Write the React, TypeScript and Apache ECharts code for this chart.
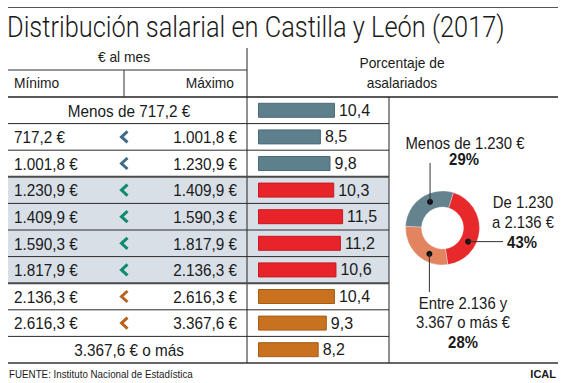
import React, { useEffect, useRef } from "react";
import * as echarts from "echarts";

// ---- data ----
const bounds = ["717,2 €", "1.001,8 €", "1.230,9 €", "1.409,9 €", "1.590,3 €", "1.817,9 €", "2.136,3 €", "2.616,3 €", "3.367,6 €"];
const categories = [
  "Menos de 717,2 €",
  "717,2-1.001,8",
  "1.001,8-1.230,9",
  "1.230,9-1.409,9",
  "1.409,9-1.590,3",
  "1.590,3-1.817,9",
  "1.817,9-2.136,3",
  "2.136,3-2.616,3",
  "2.616,3-3.367,6",
  "3.367,6 € o más",
];
const values = [10.4, 8.5, 9.8, 10.3, 11.5, 11.2, 10.6, 10.4, 9.3, 8.2];
const groups = [0, 0, 0, 1, 1, 1, 1, 2, 2, 2];
const donutValues = [43, 28, 29]; // De 1.230 a 2.136 €, Entre 2.136 y 3.367 o más €, Menos de 1.230 €
const donutNames = ["De 1.230 a 2.136 €", "Entre 2.136 y 3.367 o más €", "Menos de 1.230 €"];
const title = "Distribución salarial en Castilla y León (2017)";

// ---- styles ----
const barColors = ["#5e7f8c", "#e8232a", "#c8711f"];
const barBorders = ["#4c6b78", "#c41a20", "#a65c17"];
const chevColors = ["#3f6a88", "#0f8a6d", "#b4651f"];
const donutColors = ["#e8292b", "#e2845f", "#64838f"];
const FF = "'Liberation Sans', Arial, Helvetica, sans-serif";

export default function App() {
  const ref = useRef<HTMLDivElement>(null);
  useEffect(() => {
    if (!ref.current) return;
    const chart = echarts.init(ref.current, null, { renderer: "svg" });

    const rowTop = 97;
    const rowBottom = 363;
    const rowH = (rowBottom - rowTop) / categories.length;
    const L = 8, R = 558, colSplit = 247, tableR = 389, midX = 124;

    // title scaling to emulate condensed face
    const titleFont = "300 30px Roboto";
    let titleScale = 0.78;
    try {
      const c = document.createElement("canvas").getContext("2d");
      if (c) {
        c.font = titleFont;
        const w = c.measureText(title).width;
        if (w > 0) titleScale = 498 / w;
      }
    } catch (e) {}

    const txt = (text: string, x: number, y: number, size: number, align = "left", weight = "normal", sx = 1, fill = "#1a1a1a") => ({
      type: "text",
      silent: true,
      x, y, scaleX: sx, scaleY: 1,
      style: {
        text, x: 0, y: 0, fill,
        font: `${weight} ${size}px ${FF}`,
        align, verticalAlign: "middle",
        textAlign: align, textVerticalAlign: "middle",
      },
    });
    const line = (x1: number, y1: number, x2: number, y2: number, stroke = "#222", lw = 1) => ({
      type: "line",
      silent: true,
      shape: { x1, y1, x2, y2 },
      style: { stroke, lineWidth: lw },
    });

    const g: any[] = [];
    // highlighted rows background
    g.push({
      type: "rect", silent: true, z: -1,
      shape: { x: L, y: rowTop + 3 * rowH, width: tableR - L, height: 4 * rowH },
      style: { fill: "#d8dfe7" },
    });
    // top rule
    g.push(line(L, 7.5, R, 7.5, "#555", 1));
    // title
    g.push({
      type: "text", silent: true, x: 7, y: 27, scaleX: titleScale, scaleY: 1,
      style: { text: title, x: 0, y: 0, fill: "#1a1a1a", font: titleFont, align: "left", verticalAlign: "middle", textAlign: "left", textVerticalAlign: "middle" },
    });
    // header
    g.push(txt("€ al mes", 124, 57, 15, "center", "normal", 0.92));
    g.push(txt("Mínimo", 14, 83, 15, "left", "normal", 0.92));
    g.push(txt("Máximo", 234, 83, 15, "right", "normal", 0.92));
    g.push(txt("Porcentaje de", 402, 63, 15, "center", "normal", 0.92));
    g.push(txt("asalariados", 402, 83, 15, "center", "normal", 0.92));
    g.push(line(L, 70, colSplit, 70, "#333", 1));
    g.push(line(midX, 70, midX, 96.5, "#333", 1));
    g.push(line(colSplit, 48, colSplit, rowBottom, "#222", 1));
    g.push(line(tableR, rowTop, tableR, rowBottom, "#222", 1));
    g.push(line(L, rowTop, R, rowTop, "#222", 1.3));
    g.push(line(L, rowBottom, R, rowBottom, "#333", 1.3));
    // row lines
    for (let i = 1; i < categories.length; i++) {
      const y = rowTop + i * rowH;
      const thick = i === 3 || i === 7;
      g.push(line(L, y, tableR, y, thick ? "#4a4a4a" : "#2a2a2a", thick ? 2 : 1));
    }
    // row texts
    categories.forEach((cat, i) => {
      const cy = rowTop + (i + 0.5) * rowH;
      if (i === 0 || i === categories.length - 1) {
        g.push(txt(cat, 129, cy, 17, "center", "normal", 0.9));
      } else {
        g.push(txt(bounds[i - 1], 14, cy, 17, "left", "normal", 0.9));
        g.push(txt(bounds[i], 237, cy, 17, "right", "normal", 0.9));
        g.push({
          type: "polyline", silent: true,
          shape: { points: [[127.5, cy - 5.5], [121.5, cy], [127.5, cy + 5.5]] },
          style: { stroke: chevColors[groups[i]], lineWidth: 3, fill: null, lineJoin: "miter" },
        });
      }
    });

    // donut annotations
    const pcx = 442.5, pcy = 228, rm = 29;
    const dot = (ang: number) => {
      const a = (ang * Math.PI) / 180;
      return [pcx + rm * Math.sin(a), pcy - rm * Math.cos(a)];
    };
    const dGray = dot(-25.4), dRed = dot(118), dSal = dot(206.9);
    [dGray, dRed, dSal].forEach((p) =>
      g.push({ type: "circle", silent: true, z: 10, shape: { cx: p[0], cy: p[1], r: 3 }, style: { fill: "#111" } })
    );
    g.push({ ...line(dGray[0], dGray[1], dGray[0], 163, "#333", 1), z: 10 });
    g.push({ ...line(dRed[0], dRed[1], 503, dRed[1], "#333", 1), z: 10 });
    g.push({ ...line(dSal[0], dSal[1], dSal[0], 292, "#333", 1), z: 10 });
    g.push(txt("Menos de 1.230 €", 465, 143, 16, "center", "normal", 0.93));
    g.push(txt(`${donutValues[2]}%`, 464, 159, 16, "center", "bold", 0.93));
    g.push(txt("De 1.230", 523, 202, 16, "center", "normal", 0.93));
    g.push(txt("a 2.136 €", 523, 222, 16, "center", "normal", 0.93));
    g.push(txt(`${donutValues[0]}%`, 522, 242, 16, "center", "bold", 0.93));
    g.push(txt("Entre 2.136 y", 463, 303, 16, "center", "normal", 0.93));
    g.push(txt("3.367 o más €", 463, 322, 16, "center", "normal", 0.93));
    g.push(txt(`${donutValues[1]}%`, 463, 342, 16, "center", "bold", 0.93));

    // footer
    g.push(txt("FUENTE: Instituto Nacional de Estadística", 9, 374, 11, "left", "normal", 0.89));
    g.push(txt("ICAL", 556, 374, 11, "right", "bold", 1));

    chart.setOption({
      animation: false,
      backgroundColor: "#ffffff",
      grid: { left: 258, top: rowTop, width: 129.5, height: rowBottom - rowTop, containLabel: false },
      xAxis: { type: "value", min: 0, max: 17.5, show: false },
      yAxis: { type: "category", data: categories, inverse: true, show: false },
      series: [
        {
          type: "bar",
          barWidth: 15,
          data: values.map((v, i) => ({
            value: v,
            itemStyle: { color: barColors[groups[i]], borderColor: barBorders[groups[i]], borderWidth: 1 },
          })),
          label: {
            show: true,
            position: "right",
            distance: 4,
            fontSize: 16,
            fontFamily: FF,
            color: "#1a1a1a",
            formatter: (p: any) => String(p.value).replace(".", ","),
          },
          silent: true,
          z: 5,
        },
        {
          type: "pie",
          center: [pcx, pcy],
          radius: [21, 37],
          startAngle: 73,
          clockwise: true,
          label: { show: false },
          labelLine: { show: false },
          silent: true,
          z: 5,
          itemStyle: { borderColor: "rgba(255,255,255,0.6)", borderWidth: 0.5 },
          data: donutValues.map((v, i) => ({ value: v, name: donutNames[i], itemStyle: { color: donutColors[i] } })),
        },
      ],
      graphic: { elements: g },
    });
    return () => chart.dispose();
  }, []);
  return <div ref={ref} style={{ position: "fixed", left: 0, top: 0, width: 566, height: 383, background: "#fff" }} />;
}
